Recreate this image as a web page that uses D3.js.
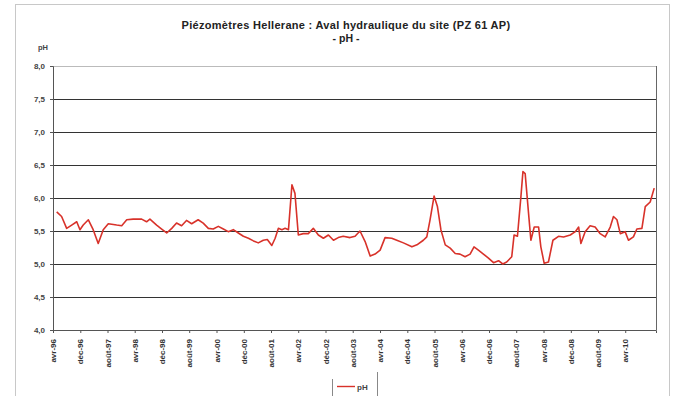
<!DOCTYPE html>
<html>
<head>
<meta charset="utf-8">
<script src="https://cdn.jsdelivr.net/npm/d3@7"></script>
<style>
  body { margin: 0; background: #fff; }
  svg { font-family: "Liberation Sans", Arial, sans-serif; }
</style>
</head>
<body>
<svg width="676" height="396"></svg>
<script>
const dates = [
  "1996-05-04","1996-06-17","1996-08-01","1996-09-15","1996-10-30","1996-11-28","1996-12-27",
  "1997-02-11","1997-03-26","1997-05-10","1997-06-24","1997-08-08","1997-10-22","1997-12-06",
  "1998-01-20","1998-03-18","1998-06-02","1998-07-16","1998-08-15","1998-10-14","1998-11-28",
  "1999-01-12","1999-02-26","1999-04-10","1999-05-25","1999-07-08","1999-08-23","1999-10-20",
  "1999-12-04","2000-01-19","2000-03-03","2000-04-17","2000-06-01","2000-07-15","2000-08-29",
  "2000-10-13","2000-11-27","2001-01-11","2001-02-25","2001-04-09","2001-05-24","2001-06-29",
  "2001-08-08","2001-09-07","2001-10-06","2001-11-06","2001-12-05","2002-01-04","2002-02-04",
  "2002-03-03","2002-04-02","2002-05-16","2002-06-30","2002-08-14","2002-09-28","2002-11-12",
  "2002-12-27","2003-02-10","2003-03-25","2003-05-08","2003-07-08","2003-08-22","2003-10-05",
  "2003-11-20","2004-01-04","2004-02-17","2004-04-02","2004-05-16","2004-07-15","2004-08-29",
  "2004-10-27","2005-01-11","2005-02-25","2005-04-23","2005-05-24","2005-06-22","2005-07-28",
  "2005-08-27","2005-09-27","2005-11-05","2005-12-19","2006-02-02","2006-03-17","2006-05-01",
  "2006-06-15","2006-07-20","2006-08-28","2006-10-12","2006-11-26","2007-01-10","2007-02-24",
  "2007-04-03","2007-05-08","2007-06-22","2007-07-13","2007-08-12","2007-09-12","2007-09-30",
  "2007-10-20","2007-11-19","2007-12-10","2008-01-09","2008-02-17","2008-03-08","2008-04-07",
  "2008-05-15","2008-06-24","2008-08-13","2008-09-27","2008-11-26","2009-01-10","2009-02-09",
  "2009-03-01","2009-04-08","2009-05-22","2009-07-06","2009-08-20","2009-10-04","2009-11-18",
  "2009-12-17","2010-01-17","2010-02-16","2010-03-31","2010-04-30","2010-06-13","2010-07-14",
  "2010-08-28","2010-09-27","2010-11-10","2010-12-16"
];

const phValues = [
  5.79,5.72,5.54,5.59,5.64,5.52,5.59,
  5.67,5.52,5.31,5.52,5.61,5.59,5.58,
  5.67,5.68,5.68,5.64,5.68,5.59,5.53,
  5.47,5.54,5.62,5.58,5.66,5.61,5.67,
  5.62,5.54,5.53,5.57,5.53,5.49,5.52,
  5.47,5.42,5.39,5.35,5.32,5.36,5.37,
  5.28,5.39,5.54,5.52,5.54,5.52,6.20,
  6.07,5.44,5.46,5.46,5.54,5.44,5.39,
  5.44,5.36,5.40,5.42,5.40,5.42,5.50,
  5.34,5.12,5.15,5.21,5.40,5.39,5.36,
  5.32,5.26,5.29,5.36,5.41,5.67,6.03,
  5.87,5.52,5.29,5.24,5.16,5.15,5.11,
  5.15,5.26,5.21,5.15,5.09,5.02,5.05,
  5.00,5.03,5.11,5.44,5.42,6.02,6.40,
  6.37,5.77,5.36,5.56,5.56,5.26,5.01,
  5.03,5.36,5.42,5.41,5.44,5.49,5.56,
  5.31,5.49,5.58,5.56,5.46,5.41,5.56,
  5.72,5.67,5.46,5.49,5.36,5.41,5.53,
  5.54,5.87,5.94,6.15
];

// Étiquettes de l'axe des x (une tous les 8 mois)
const tickLabels = [
  "avr-96","déc-96","août-97","avr-98","déc-98","août-99","avr-00","déc-00",
  "août-01","avr-02","déc-02","août-03","avr-04","déc-04","août-05","avr-06",
  "déc-06","août-07","avr-08","déc-08","août-09","avr-10"
];
const yTicks = [4.0, 4.5, 5.0, 5.5, 6.0, 6.5, 7.0, 7.5, 8.0];

const parse = d3.timeParse("%Y-%m-%d");
const data = dates.map((d, i) => ({ date: parse(d), ph: phValues[i] }));

const svg = d3.select("svg");
const plot = { left: 53, right: 656, top: 66, bottom: 330 };

const start = parse("1996-04-01");
const x = d3.scaleTime()
    .domain([start, parse("2011-01-01")])
    .range([plot.left, plot.right]);

const y = d3.scaleLinear()
    .domain([4, 8])
    .range([plot.bottom, plot.top]);

const tickDates = tickLabels.map((l, i) => d3.timeMonth.offset(start, 8 * i));

// Cadre extérieur (scan)
svg.append("rect")
    .attr("x", 15.5).attr("y", 4.5)
    .attr("width", 654).attr("height", 400)
    .attr("fill", "none")
    .attr("stroke", "#c8c8c8");

// Titre
svg.append("text")
    .attr("x", 346).attr("y", 29)
    .attr("text-anchor", "middle")
    .attr("font-size", 11)
    .attr("font-weight", "bold")
    .attr("letter-spacing", 0.3)
    .attr("fill", "#222")
    .text("Piézomètres Hellerane : Aval hydraulique du site (PZ 61 AP)");

svg.append("text")
    .attr("x", 346).attr("y", 42)
    .attr("text-anchor", "middle")
    .attr("font-size", 10.5)
    .attr("font-weight", "bold")
    .attr("fill", "#222")
    .text("- pH -");

// Lignes de quadrillage
svg.append("g")
    .selectAll("line")
    .data(yTicks.filter(v => v > 4))
    .join("line")
    .attr("x1", plot.left).attr("x2", plot.right)
    .attr("y1", d => Math.round(y(d)) + 0.5)
    .attr("y2", d => Math.round(y(d)) + 0.5)
    .attr("stroke", d => d === 8 ? "#bbb" : "#333")
    .attr("stroke-width", 1);

// Bord droit de la zone de tracé
svg.append("line")
    .attr("x1", plot.right + 0.5).attr("x2", plot.right + 0.5)
    .attr("y1", plot.top).attr("y2", plot.bottom)
    .attr("stroke", "#666");

// Axe des y
const yAxis = svg.append("g")
    .attr("transform", `translate(${plot.left},0)`)
    .call(d3.axisLeft(y)
        .tickValues(yTicks)
        .tickSize(3)
        .tickFormat(d => d3.format(".1f")(d).replace(".", ",")));
yAxis.select(".domain").attr("stroke", "#555");
yAxis.selectAll(".tick line").attr("stroke", "#555");
yAxis.selectAll("text")
    .attr("font-size", 8)
    .attr("font-weight", "bold")
    .attr("fill", "#444")
    .attr("x", -8);

svg.append("text")
    .attr("x", 43).attr("y", 50)
    .attr("text-anchor", "middle")
    .attr("font-size", 7.5)
    .attr("font-weight", "bold")
    .attr("fill", "#444")
    .text("pH");

// Axe des x
const xAxis = svg.append("g")
    .attr("transform", `translate(0,${plot.bottom})`)
    .call(d3.axisBottom(x)
        .tickValues(tickDates)
        .tickSize(3)
        .tickFormat((d, i) => tickLabels[i]));
xAxis.select(".domain").attr("stroke", "#555");
xAxis.selectAll(".tick line").attr("stroke", "#555");
xAxis.selectAll("text")
    .attr("font-size", 8)
    .attr("font-weight", "bold")
    .attr("fill", "#333")
    .attr("transform", "rotate(-90)")
    .attr("text-anchor", "end")
    .attr("x", -9)
    .attr("y", 0)
    .attr("dy", "0.32em");

// Courbe du pH
const line = d3.line()
    .x(d => x(d.date))
    .y(d => y(d.ph));

svg.append("path")
    .datum(data)
    .attr("fill", "none")
    .attr("stroke", "#d8322a")
    .attr("stroke-width", 1.6)
    .attr("stroke-linejoin", "round")
    .attr("d", line);

// Légende
const legend = svg.append("g");
legend.append("line")
    .attr("x1", 332.5).attr("x2", 332.5)
    .attr("y1", 379).attr("y2", 396)
    .attr("stroke", "#888");
legend.append("line")
    .attr("x1", 377.5).attr("x2", 377.5)
    .attr("y1", 372).attr("y2", 396)
    .attr("stroke", "#888");
legend.append("line")
    .attr("x1", 337).attr("x2", 355)
    .attr("y1", 386.5).attr("y2", 386.5)
    .attr("stroke", "#d8322a")
    .attr("stroke-width", 1.4);
legend.append("text")
    .attr("x", 357).attr("y", 389.5)
    .attr("font-size", 8)
    .attr("font-weight", "bold")
    .attr("fill", "#444")
    .text("pH");
</script>
</body>
</html>
